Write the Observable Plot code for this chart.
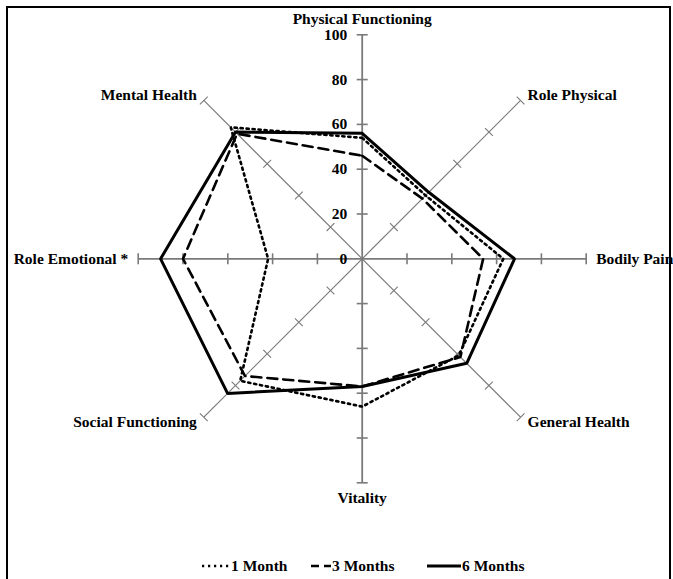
<!DOCTYPE html>
<html><head><meta charset="utf-8">
<script src="https://cdn.jsdelivr.net/npm/d3@7"></script>
<script src="https://cdn.jsdelivr.net/npm/@observablehq/plot@0.6"></script>
<style>
html,body{margin:0;padding:0;background:#fff;}
#wrap{position:relative;width:673px;height:579px;overflow:hidden;background:#fff;
  font-family:"Liberation Serif","Times New Roman",serif;font-weight:bold;}
#frame{position:absolute;left:6px;top:6px;width:665px;height:620px;border:2px solid #000;box-sizing:border-box;pointer-events:none;}
#chart{position:absolute;left:0;top:0;}
.lg{position:absolute;top:556px;height:20px;display:flex;align-items:center;font-size:15.5px;color:#000;}
.lg svg{display:block;}
</style>
</head><body>
<div id="wrap"><div id="chart"></div><div id="legendbox"></div><div id="frame"></div></div>
<script>
// ---- data ----
const axes = ["Physical Functioning","Role Physical","Bodily Pain","General Health","Vitality","Social Functioning","Role Emotional *","Mental Health"];
const seriesNames = ["1 Month","3 Months","6 Months"];
const month1 = [54, 40, 63, 61, 66, 77, 42, 83];
const month3 = [46, 38, 54, 62, 57, 74, 80, 79];
const month6 = [56, 42, 68, 66, 57, 85, 90, 80];
const tickValues = [0, 20, 40, 60, 80, 100];

// ---- layout ----
const W = 673, H = 540, cx = 361.7, cy = 258.3, pxPerUnit = 2.24;
const maxV = 100;
const ang = i => i * Math.PI / 4;
const px = (v, i) => v * Math.sin(ang(i));
const py = (v, i) => v * Math.cos(ang(i));

const seriesVals = [month1, month3, month6];
const rows = [];
seriesNames.forEach((s, k) => axes.forEach((a, i) => rows.push({series: s, axis: a, i, value: seriesVals[k][i]})));

const axisRows = axes.map((a, i) => ({axis: a, i}));
const tickRows = [];
axes.forEach((a, i) => tickValues.filter(v => v > 0).forEach(v => tickRows.push({i, v})));
const h = 5.5 / pxPerUnit; // half tick length in units

const labelOffsets = [
  {dx: 0, dy: -16, anchor: "middle"},
  {dx: 7, dy: -5, anchor: "start"},
  {dx: 10, dy: 0, anchor: "start"},
  {dx: 7, dy: 5, anchor: "start"},
  {dx: 0, dy: 15, anchor: "middle"},
  {dx: -7, dy: 5, anchor: "end"},
  {dx: -10, dy: 0, anchor: "end"},
  {dx: -7, dy: -5, anchor: "end"}
];

const styles = {
  "1 Month": {dash: "2.2,3.8", width: 2.6},
  "3 Months": {dash: "10,6", width: 2.6},
  "6 Months": {dash: null, width: 3}
};

const font = "Liberation Serif, Times New Roman, serif";
const fs = 15.5;
const marks = [
  Plot.link(axisRows, {x1: 0, y1: 0, x2: d => px(maxV, d.i), y2: d => py(maxV, d.i),
    stroke: "#7a7a7a", strokeWidth: d => d.i % 2 === 0 ? 1.8 : 1.2}),
  Plot.link(tickRows, {
    x1: d => px(d.v, d.i) - h * Math.cos(ang(d.i)), y1: d => py(d.v, d.i) + h * Math.sin(ang(d.i)),
    x2: d => px(d.v, d.i) + h * Math.cos(ang(d.i)), y2: d => py(d.v, d.i) - h * Math.sin(ang(d.i)),
    stroke: "#7a7a7a", strokeWidth: d => d.i % 2 === 0 ? 1.6 : 1.1})
];
seriesNames.forEach(s => {
  const st = styles[s];
  marks.push(Plot.line(rows.filter(r => r.series === s), {
    x: d => px(d.value, d.i), y: d => py(d.value, d.i), curve: "linear-closed",
    stroke: "#000", strokeWidth: st.width, strokeDasharray: st.dash, strokeLinejoin: "miter"}));
});
marks.push(Plot.text(tickValues, {x: 0, y: d => d, text: d => String(d), dx: -15, textAnchor: "end",
  fontSize: fs, fontWeight: "bold", fontFamily: font, fill: "#000"}));
axisRows.forEach(d => {
  const o = labelOffsets[d.i];
  marks.push(Plot.text([d], {x: r => px(maxV, r.i), y: r => py(maxV, r.i), text: "axis",
    dx: o.dx, dy: o.dy, textAnchor: o.anchor, fontSize: fs, fontWeight: "bold", fontFamily: font, fill: "#000"}));
});

const chart = Plot.plot({
  width: W, height: H, margin: 0,
  x: {domain: [-cx / pxPerUnit, (W - cx) / pxPerUnit], axis: null},
  y: {domain: [-(H - cy) / pxPerUnit, cy / pxPerUnit], axis: null},
  style: {background: "transparent", overflow: "visible"},
  marks
});
document.getElementById("chart").appendChild(chart);

// ---- legend ----
const legendLayout = [
  {left: 202, sw: 28},
  {left: 311, sw: 20},
  {left: 427, sw: 34}
];
const lb = document.getElementById("legendbox");
seriesNames.forEach((s, k) => {
  const st = styles[s], L = legendLayout[k];
  const div = document.createElement("div");
  div.className = "lg";
  div.style.left = L.left + "px";
  const dash = s === "3 Months" ? "8,5" : (st.dash || "none");
  div.innerHTML = `<svg width="${L.sw}" height="12"><line x1="0" y1="6" x2="${L.sw}" y2="6" stroke="#000" stroke-width="${st.width}" ${dash !== "none" ? `stroke-dasharray="${dash}"` : ""}/></svg><span style="margin-left:1px">${s}</span>`;
  lb.appendChild(div);
});
</script>
</body></html>
